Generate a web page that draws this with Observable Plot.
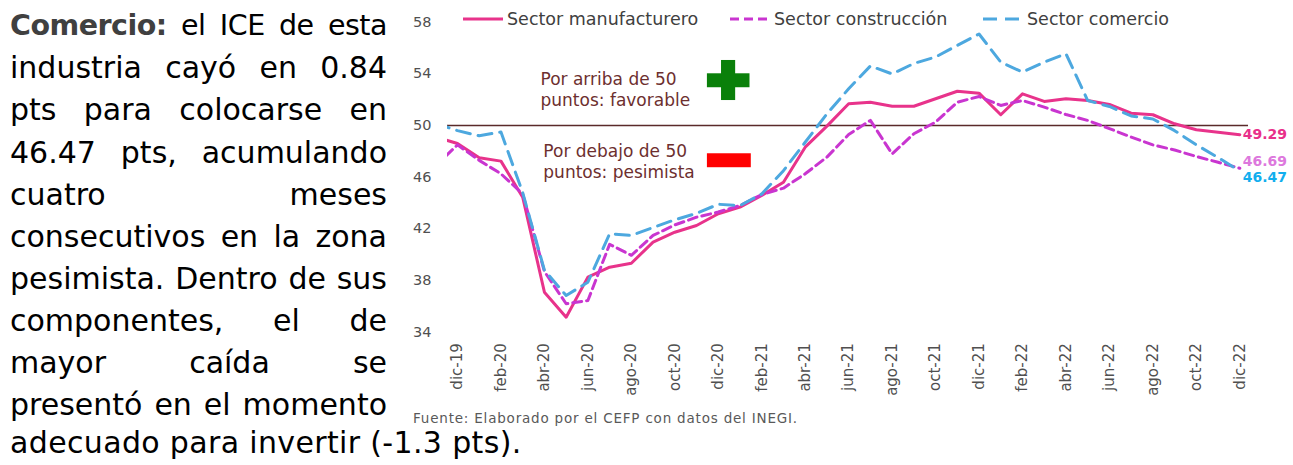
<!DOCTYPE html>
<html>
<head>
<meta charset="utf-8">
<script src="https://cdn.jsdelivr.net/npm/d3@7"></script>
<script src="https://cdn.jsdelivr.net/npm/@observablehq/plot@0.6"></script>
<style>
  html, body { margin: 0; padding: 0; background: #fff; }
  body { width: 1293px; height: 465px; position: relative; overflow: hidden; font-family: "DejaVu Sans", sans-serif; }
  #para { position: absolute; left: 10px; top: 5.3px; width: 377px; font-size: 30px; line-height: 42.1px; color: #000; }
  #para .ln { white-space: nowrap; text-align: justify; text-align-last: justify; }
  #para .first { font-size: 28.5px; letter-spacing: -0.5px; }
  #para b { color: #404040; }
  #last { position: absolute; left: 10px; top: 422px; font-size: 30px; line-height: 42.1px; white-space: nowrap; letter-spacing: 0.35px; }
  #chart { position: absolute; left: 400px; top: 0; }
  .leg { position: absolute; top: 7px; font-size: 17.5px; color: #404040; white-space: nowrap; display: flex; align-items: center; }
  .leg svg { margin-right: 4px; }
  #caption { position: absolute; left: 413px; top: 410px; font-size: 13.5px; letter-spacing: 0.8px; color: #595959; white-space: nowrap; }
</style>
</head>
<body>
<div id="para">
  <div class="ln first"><b>Comercio:</b> el ICE de esta</div>
  <div class="ln">industria cayó en 0.84</div>
  <div class="ln">pts para colocarse en</div>
  <div class="ln">46.47 pts, acumulando</div>
  <div class="ln">cuatro meses</div>
  <div class="ln">consecutivos en la zona</div>
  <div class="ln">pesimista. Dentro de sus</div>
  <div class="ln">componentes, el de</div>
  <div class="ln">mayor caída se</div>
  <div class="ln">presentó en el momento</div>
</div>
<div id="last">adecuado para invertir (-1.3 pts).</div>
<div id="chart"></div>
<div id="legend"></div>
<div id="caption">Fuente: Elaborado por el CEFP con datos del INEGI.</div>
<script>
// ---- data ----
const months = ["nov-19","dic-19","ene-20","feb-20","mar-20","abr-20","may-20","jun-20","jul-20","ago-20","sep-20","oct-20","nov-20","dic-20",
  "ene-21","feb-21","mar-21","abr-21","may-21","jun-21","jul-21","ago-21","sep-21","oct-21","nov-21","dic-21",
  "ene-22","feb-22","mar-22","abr-22","may-22","jun-22","jul-22","ago-22","sep-22","oct-22","nov-22","dic-22"];
const manufacturero = [49.1,48.6,47.5,47.24,44.45,37.1,35.16,38.26,39.03,39.34,40.97,41.74,42.26,43.17,
  43.68,44.58,45.61,48.32,49.95,51.68,51.8,51.49,51.49,52.07,52.65,52.5,
  50.83,52.45,51.86,52.07,51.93,51.63,50.95,50.83,50.13,49.67,49.48,49.29];
const construccion = [46.9,48.5,47.3,46.26,44.7,38.7,36.2,36.45,40.8,39.95,41.49,42.3,42.9,43.3,
  43.8,44.65,45.15,46.26,47.55,49.3,50.39,47.8,49.36,50.26,51.8,52.24,
  51.55,51.93,51.42,50.85,50.39,49.76,49.1,48.5,48.1,47.6,47.15,46.69];
const comercio = [50.15,49.6,49.2,49.5,44.8,38.8,36.84,37.87,41.62,41.49,42.1,42.7,43.2,43.9,
  43.8,44.7,46.5,48.7,50.9,52.84,54.6,53.99,54.8,55.3,56.2,57.08,
  54.9,54.13,54.9,55.55,51.93,51.47,50.74,50.5,49.6,48.5,47.52,46.47];
const tickLabels = ["dic-19","feb-20","abr-20","jun-20","ago-20","oct-20","dic-20","feb-21","abr-21","jun-21",
  "ago-21","oct-21","dic-21","feb-22","abr-22","jun-22","ago-22","oct-22","dic-22"];
const yTicks = [34,38,42,46,50,54,58];
const seriesNames = ["Sector manufacturero","Sector construcción","Sector comercio"];
const endLabels = ["49.29","46.69","46.47"];
const threshold = 50;

// ---- styles ----
const colors = ["#E8338B","#C935D0","#4DA8DF"];
const labelColors = ["#E8308A","#DD78DD","#12AEEE"];
const dashes = [null,"9,5","14,8"];

const seriesValues = [manufacturero, construccion, comercio];
const rows = seriesValues.map(vals => vals.map((v,k) => ({k, v, month: months[k]})));
const tickKs = tickLabels.map(t => months.indexOf(t));
const lastK = months.length - 1;

const plusBars = [
  {x1: 12.5, x2: 14.46, y1: 52.92, y2: 54.0},
  {x1: 13.15, x2: 13.8, y1: 51.93, y2: 55.03}
];
const minusBar = [{x1: 12.5, x2: 14.52, y1: 46.73, y2: 47.81}];

const chart = Plot.plot({
  width: 893,
  height: 400,
  marginLeft: 47,
  marginRight: 45,
  marginTop: 21.6,
  marginBottom: 68.3,
  style: {fontFamily: "DejaVu Sans, sans-serif", color: "#505050", background: "transparent"},
  x: {type: "linear", domain: [0.54, 37.4]},
  y: {domain: [34, 58]},
  marks: [
    Plot.axisY({ticks: yTicks, tickSize: 0, tickPadding: 16, fontSize: 14.5, label: null}),
    Plot.axisX({ticks: tickKs, tickFormat: k => months[k], tickRotate: -90, tickSize: 0, tickPadding: 11, fontSize: 15, label: null}),
    Plot.ruleY([threshold], {stroke: "#5a2a2a", strokeWidth: 1.5}),
    Plot.rect(plusBars, {x1: "x1", x2: "x2", y1: "y1", y2: "y2", fill: "#0a800a"}),
    Plot.rect(minusBar, {x1: "x1", x2: "x2", y1: "y1", y2: "y2", fill: "#ff0000"}),
    Plot.text(["Por arriba de 50\npuntos: favorable"], {x: 4.82, y: 52.84, text: d => d, textAnchor: "start", lineHeight: 1.24, fontSize: 17, fill: "#6d2f2f"}),
    Plot.text(["Por debajo de 50\npuntos: pesimista"], {x: 4.95, y: 47.24, text: d => d, textAnchor: "start", lineHeight: 1.24, fontSize: 17, fill: "#6d2f2f"}),
    ...rows.map((r, s) => Plot.line(r, {x: "k", y: "v", stroke: colors[s], strokeWidth: 3, strokeDasharray: dashes[s], clip: true})),
    ...rows.map((r, s) => Plot.text([r[lastK]], {x: "k", y: "v", text: () => endLabels[s], textAnchor: "start", dx: 3, dy: [0, -7, 6][s], fontSize: 14, fontWeight: "bold", fill: labelColors[s]}))
  ]
});
document.getElementById("chart").appendChild(chart);

// ---- legend ----
const legendPos = [463, 730, 983];
const legend = document.getElementById("legend");
seriesNames.forEach((name, s) => {
  const div = document.createElement("div");
  div.className = "leg";
  div.style.left = legendPos[s] + "px";
  const ns = "http://www.w3.org/2000/svg";
  const svg = document.createElementNS(ns, "svg");
  svg.setAttribute("width", 40); svg.setAttribute("height", 24);
  const ln = document.createElementNS(ns, "line");
  ln.setAttribute("x1", 0); ln.setAttribute("x2", 40); ln.setAttribute("y1", 12); ln.setAttribute("y2", 12);
  ln.setAttribute("stroke", colors[s]); ln.setAttribute("stroke-width", 3);
  if (dashes[s]) ln.setAttribute("stroke-dasharray", dashes[s]);
  svg.appendChild(ln);
  div.appendChild(svg);
  const sp = document.createElement("span");
  sp.textContent = name;
  div.appendChild(sp);
  legend.appendChild(div);
});
</script>
</body>
</html>
